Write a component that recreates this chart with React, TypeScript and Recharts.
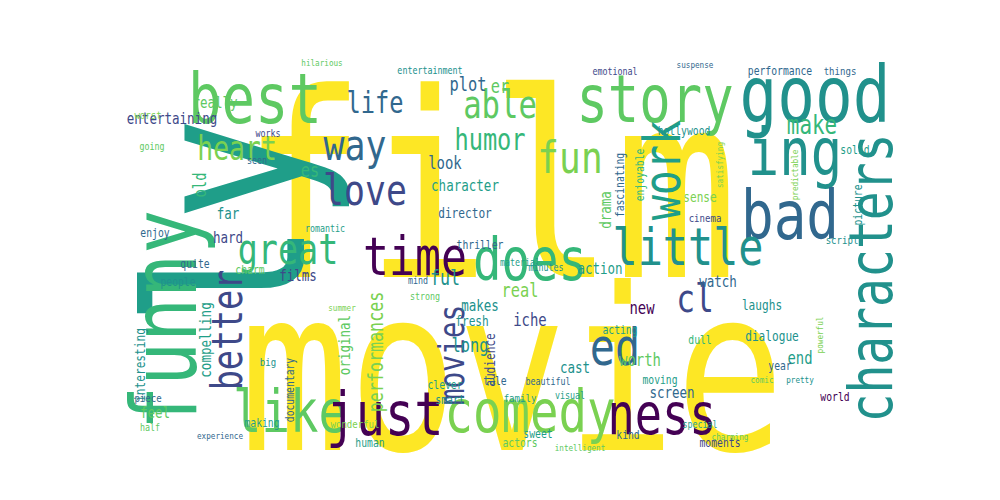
import React from 'react'
import { ScatterChart, Scatter, XAxis, YAxis } from 'recharts'

// word, x, y, font size, rotation, colour index
const bigWords: [string, number, number, number, number, number][] = [
  ['film', 490, 188, 296, 0, 0],
  ['movie', 512, 372, 260, 0, 0],
  ['ly', 228, 222, 250, -90, 4],
  ['funny', 165, 320, 105, -90, 3],
  ['characters', 872, 278, 69, -90, 5],
  ['good', 815, 95, 90, 0, 5],
  ['story', 655, 99, 75, 0, 2],
  ['best', 255, 99, 80, 0, 2],
  ['ing', 795, 152, 75, 0, 5],
  ['bad', 790, 215, 78, 0, 6],
  ['like', 290, 412, 68, 0, 2],
  ['just', 385, 414, 70, 0, 8],
  ['comedy', 530, 412, 68, 0, 1],
  ['ness', 662, 414, 65, 0, 8],
  ['little', 688, 247, 60, 0, 5],
  ['does', 530, 260, 68, 0, 3],
  ['time', 415, 257, 62, 0, 8],
  ['work', 662, 170, 60, -90, 4],
  ['ed', 615, 347, 60, 0, 6],
]

const midWords: [string, number, number, number, number, number][] = [
  ['fun', 570, 158, 52, 0, 1],
  ['way', 355, 145, 50, 0, 6],
  ['love', 365, 190, 50, 0, 7],
  ['great', 288, 250, 48, 0, 3],
  ['better', 228, 330, 48, -90, 7],
  ['able', 500, 105, 44, 0, 2],
  ['heart', 237, 148, 38, 0, 1],
  ['cl', 695, 298, 45, 0, 7],
  ['humor', 490, 140, 34, 0, 3],
  ['life', 375, 103, 34, 0, 6],
  ['make', 812, 125, 30, 0, 3],
  ['movies', 452, 355, 40, -90, 7],
  ['performances', 375, 352, 24, -90, 1],
  ['really', 215, 102, 18, 0, 2],
  ['entertaining', 172, 118, 18, 0, 7],
  ['old', 200, 185, 20, -90, 3],
  ['hard', 228, 237, 18, 0, 7],
  ['far', 228, 213, 18, 0, 5],
  ['films', 298, 275, 18, 0, 7],
  ['ful', 445, 277, 24, 0, 5],
  ['es', 310, 170, 22, 0, 3],
  ['plot', 468, 84, 22, 0, 6],
  ['er', 500, 86, 22, 0, 2],
  ['look', 445, 163, 20, 0, 6],
  ['character', 465, 185, 18, 0, 4],
  ['director', 465, 213, 16, 0, 6],
  ['drama', 605, 210, 18, -90, 2],
  ['sense', 700, 197, 16, 0, 1],
  ['watch', 718, 281, 18, 0, 6],
  ['action', 600, 268, 18, 0, 4],
  ['real', 520, 290, 22, 0, 1],
  ['makes', 480, 305, 18, 0, 5],
  ['iche', 530, 320, 20, 0, 7],
  ['new', 642, 308, 20, 0, 8],
  ['long', 470, 345, 22, 0, 5],
  ['fresh', 472, 321, 16, 0, 5],
  ['worth', 640, 360, 20, 0, 2],
  ['end', 800, 358, 20, 0, 4],
  ['screen', 672, 392, 18, 0, 6],
  ['cast', 575, 367, 18, 0, 5],
  ['dialogue', 772, 336, 16, 0, 5],
  ['compelling', 205, 340, 18, -90, 4],
  ['interesting', 140, 365, 16, -90, 5],
  ['original', 344, 345, 18, -90, 2],
  ['audience', 490, 360, 16, -90, 7],
  ['clever', 445, 385, 14, 0, 4],
  ['smart', 450, 400, 14, 0, 5],
  ['performance', 780, 71, 14, 0, 6],
  ['things', 840, 71, 13, 0, 6],
  ['hollywood', 684, 131, 14, 0, 5],
  ['enjoyable', 640, 175, 14, -90, 3],
  ['fascinating', 620, 185, 14, -90, 6],
  ['cinema', 705, 218, 13, 0, 7],
  ['picture', 858, 205, 14, -90, 5],
  ['solid', 855, 150, 14, 0, 4],
  ['script', 842, 240, 13, 0, 5],
  ['thriller', 480, 245, 14, 0, 6],
  ['people', 178, 282, 14, 0, 5],
  ['quite', 195, 264, 14, 0, 6],
  ['charm', 250, 270, 14, 0, 2],
  ['enjoy', 155, 233, 14, 0, 6],
  ['feel', 155, 412, 18, 0, 2],
  ['making', 262, 423, 14, 0, 4],
  ['documentary', 290, 390, 14, -90, 6],
  ['human', 370, 443, 14, 0, 4],
  ['sweet', 538, 434, 14, 0, 4],
  ['actors', 520, 443, 14, 0, 2],
  ['kind', 628, 435, 14, 0, 6],
  ['moments', 720, 443, 14, 0, 7],
  ['world', 835, 397, 14, 0, 8],
  ['year', 780, 366, 14, 0, 6],
  ['laughs', 762, 305, 16, 0, 5],
  ['acting', 620, 330, 14, 0, 4],
  ['moving', 660, 380, 14, 0, 4],
  ['dull', 700, 340, 14, 0, 3],
  ['intelligent', 580, 448, 11, 0, 2],
  ['emotional', 615, 71, 12, 0, 7],
  ['entertainment', 430, 70, 12, 0, 5],
  ['hilarious', 322, 63, 11, 0, 2],
  ['works', 268, 133, 12, 0, 7],
  ['seen', 257, 160, 12, 0, 6],
  ['going', 152, 146, 12, 0, 2],
  ['worst', 148, 115, 13, 0, 1],
  ['romantic', 325, 228, 12, 0, 4],
  ['summer', 342, 308, 11, 0, 1],
  ['piece', 148, 398, 13, 0, 6],
  ['half', 150, 427, 12, 0, 2],
  ['experience', 220, 436, 11, 0, 6],
  ['wonderful', 355, 424, 13, 0, 1],
  ['tale', 495, 381, 14, 0, 6],
  ['beautiful', 548, 381, 12, 0, 6],
  ['visual', 570, 395, 12, 0, 4],
  ['family', 520, 398, 13, 0, 4],
  ['special', 700, 424, 12, 0, 4],
  ['charming', 730, 437, 11, 0, 2],
  ['powerful', 820, 335, 11, -90, 1],
  ['comic', 762, 380, 11, 0, 2],
  ['pretty', 800, 380, 11, 0, 5],
  ['suspense', 695, 65, 11, 0, 6],
  ['satisfying', 720, 165, 11, -90, 1],
  ['predictable', 795, 175, 11, -90, 1],
  ['material', 520, 262, 12, 0, 4],
  ['minutes', 546, 267, 12, 0, 5],
  ['strong', 425, 296, 12, 0, 2],
  ['mind', 418, 280, 12, 0, 6],
  ['big', 268, 362, 13, 0, 5],
]

const palette = [
  '#fde725', '#7ad151', '#5ec962', '#35b779', '#1f9e89',
  '#21918c', '#31688e', '#3e4989', '#440154',
]

const words = [...bigWords, ...midWords].map(([text, x, y, size, rot, c]) => ({
  text, x, y, size, rot, color: palette[c],
}))

const Word = (props: any) => {
  const { cx, cy, payload } = props
  return (
    <text
      transform={`translate(${cx},${cy}) rotate(${payload.rot}) scale(0.8,1)`}
      textAnchor="middle"
      dominantBaseline="central"
      fontFamily="DejaVu Sans Mono"
      fontSize={payload.size * 0.87}
      fill={payload.color}
    >
      {payload.text}
    </text>
  )
}

export default function App() {
  return (
    <div style={{ position: 'absolute', left: 0, top: 0, background: 'white' }}>
      <ScatterChart width={1000} height={500} margin={{ top: 0, right: 0, bottom: 0, left: 0 }}>
        <XAxis type="number" dataKey="x" domain={[0, 1000]} hide />
        <YAxis type="number" dataKey="y" domain={[0, 500]} reversed hide />
        <Scatter data={words} shape={Word} isAnimationActive={false} />
      </ScatterChart>
    </div>
  )
}
